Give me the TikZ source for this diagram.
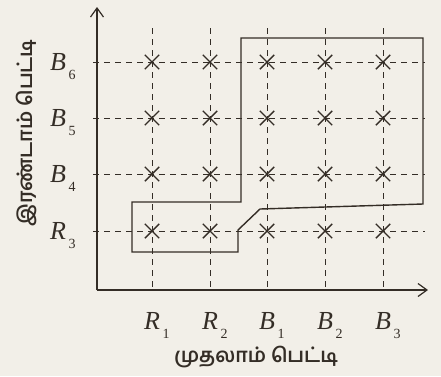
\documentclass[tikz,border=0pt]{standalone}
\usepackage{fontspec}
\setmainfont{Liberation Serif}
\newfontfamily\tamilfont[Script=Tamil]{Hind Madurai SemiBold}
\usetikzlibrary{arrows.meta,shapes.misc}
\definecolor{ink}{RGB}{52,45,38}
\definecolor{paper}{RGB}{242,239,232}
\newcommand{\lbl}[2]{#1\kern2.5pt\raisebox{-9pt}{\fontsize{14}{14}\selectfont\upshape #2}}
\begin{document}
\begin{tikzpicture}[x=1pt,y=-1pt,
  axis/.style={draw=ink,line width=1.2pt,-{Straight Barb[length=9pt,width=13pt,line width=1.2pt]}},
  gridline/.style={draw=ink,line width=0.9pt,dash pattern=on 5.5pt off 5.5pt},
  crossmark/.style={cross out,draw=ink,line width=1.4pt,minimum size=13pt,inner sep=0pt},
  region/.style={draw=ink,line width=1.4pt},
  lab/.style={text=ink,font=\fontsize{26}{26}\selectfont\itshape,inner sep=0pt,anchor=base west},
  tam/.style={text=ink,font=\tamilfont\fontsize{20}{20}\selectfont,inner sep=0pt}]
\fill[paper] (0,0) rectangle (441,376);
\useasboundingbox (0,0) rectangle (441,376);
% origin and axis ends
\coordinate (O) at (97,290);
\coordinate (ytop) at (97,7);
\coordinate (xend) at (428,290);
% grid lines
\foreach \x/\n in {152/1,210/2,267/3,325/4,383/5}{
  \coordinate (vt\n) at (\x,28);
  \coordinate (vb\n) at (\x,290);
  \draw[gridline] (vt\n) -- (vb\n);
}
\foreach \y/\n in {62/1,118/2,174/3,231/4}{
  \coordinate (hl\n) at (93,\y);
  \coordinate (hr\n) at (425,\y);
  \draw[gridline] (hl\n) -- (hr\n);
}
% axes
\draw[axis] (O) -- (ytop);
\draw[axis] (O) -- (xend);
% crosses
\foreach \x/\i in {152/1,210/2,267/3,325/4,383/5}{
  \foreach \y/\j in {62/1,118/2,174/3,231/4}{
    \node[crossmark] (c\i\j) at (\x,\y) {};
  }
}
% regions
\coordinate (a1) at (132,202);
\coordinate (a2) at (241,202);
\coordinate (a3) at (241,38);
\coordinate (a4) at (423,38);
\coordinate (a5) at (423,204);
\coordinate (a6) at (260,209);
\coordinate (a7) at (238,230);
\coordinate (a8) at (238,252);
\coordinate (a9) at (132,252);
\draw[region] (a1) -- (a2) -- (a3) -- (a4) -- (a5) -- (a6) -- (a7) -- (a8) -- (a9) -- cycle;
% y labels
\node[lab] (yB6) at (50,70) {\lbl{B}{6}};
\node[lab] (yB5) at (50,126) {\lbl{B}{5}};
\node[lab] (yB4) at (50,182) {\lbl{B}{4}};
\node[lab] (yR3) at (50,239) {\lbl{R}{3}};
% x labels
\node[lab] (xR1) at (144,329) {\lbl{R}{1}};
\node[lab] (xR2) at (202,329) {\lbl{R}{2}};
\node[lab] (xB1) at (259,329) {\lbl{B}{1}};
\node[lab] (xB2) at (317,329) {\lbl{B}{2}};
\node[lab] (xB3) at (375,329) {\lbl{B}{3}};
% axis titles
\node[tam] (xt) at (256,357) {முதலாம் பெட்டி};
\node[tam,rotate=90] (yt) at (26,133) {இரண்டாம் பெட்டி};
\end{tikzpicture}
\end{document}
